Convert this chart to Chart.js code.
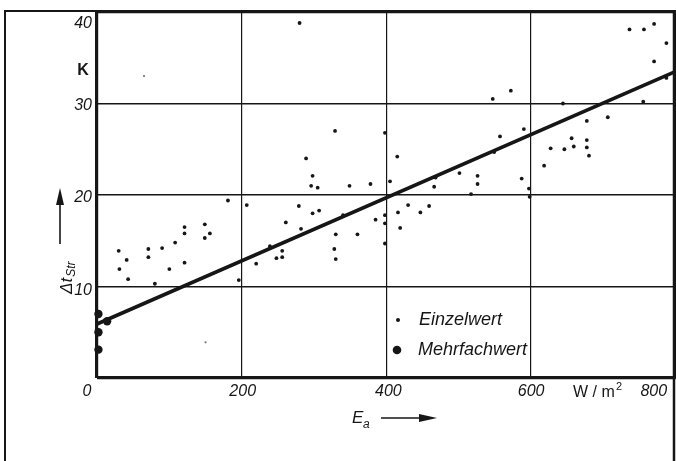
<!DOCTYPE html>
<html><head><meta charset="utf-8">
<script src="https://cdn.jsdelivr.net/npm/chart.js@4"></script>
<style>html,body{margin:0;padding:0;background:#fff;overflow:hidden;width:676px;height:461px}canvas{display:block}</style>
</head><body>
<canvas id="c" width="680" height="461" style="width:680px;height:461px"></canvas>
<script>
// Einzelwert (single values)
const einzelX = [280,329,398,289,298,296,305,349,378,
  547,572,590,557,415,549,501,526,526,405,466,587,597,468,517,
  736,756,770,787,770,787,644,755,706,677,656,677,627,646,659,677,680,618,598,
  181,121,149,121,156,149,108,90,71,30,71,41,121,31,100,43,80,196,
  207,279,298,307,261,282,239,256,248,256,220,330,328,330,360,385,340,398,398,398,
  430,459,416,447,419];
const einzelY = [38.8,27.0,26.8,24.0,22.1,21.0,20.8,21.0,21.2,
  30.5,31.4,27.2,26.4,24.2,24.7,22.4,22.1,21.2,21.5,20.9,21.8,20.7,21.9,20.1,
  38.1,38.1,38.7,36.6,34.6,32.8,30.0,30.2,28.5,28.1,26.2,26.0,25.1,25.0,25.3,25.2,24.3,23.2,19.8,
  19.4,16.5,16.8,15.8,15.8,15.3,14.8,14.2,14.1,13.9,13.2,12.9,12.6,11.9,11.9,10.8,10.3,10.7,
  18.9,18.8,18.0,18.3,17.0,16.3,14.4,13.9,13.1,13.2,12.5,15.7,14.1,13.0,15.7,17.3,17.8,17.8,16.9,14.7,
  18.9,18.8,18.1,18.1,16.4];
// faint specks
const speckX = [65,150];
const speckY = [33.0,3.9];
// Mehrfachwert (multiple values)
const mehrX = [2,2,2,14];
const mehrY = [7.0,5.0,3.1,6.2];
// regression line
const lineX = [0,800];
const lineY = [5.9,33.5];
// ticks
const xTickValues = [0,200,400,600,800];
const xTickLabels = ['0','200','400','600','800'];
const yTickValues = [10,20,30,40];
const yTickLabels = ['10','20','30','40'];
const legendLabels = ['Einzelwert','Mehrfachwert'];

const pts = (xs, ys) => xs.map((x,i)=>({x:x, y:ys[i]}));
const INK = '#161616';
const FONT = '"Liberation Sans", Arial, sans-serif';

const xShift = [-10,1,2,0,-22];
const yShift = [4,3,2,12];

const decor = {
  id:'decor',
  afterDraw(chart){
    const c = chart.ctx, xs = chart.scales.x, ys = chart.scales.y;
    c.save();
    c.strokeStyle = INK; c.fillStyle = INK;
    // outer frame
    c.lineWidth = 2;
    c.beginPath(); c.moveTo(5,461); c.lineTo(5,11); c.lineTo(676,11); c.stroke();
    c.lineWidth = 2.5;
    c.beginPath(); c.moveTo(674,11); c.lineTo(674,461); c.stroke();
    // tick labels
    c.font = 'italic 16px ' + FONT;
    c.textBaseline = 'middle';
    c.textAlign = 'center';
    xTickValues.forEach((v,i)=>{ c.fillText(xTickLabels[i], xs.getPixelForValue(v)+xShift[i], 392); });
    c.textAlign = 'right';
    yTickValues.forEach((v,i)=>{ c.fillText(yTickLabels[i], 92, ys.getPixelForValue(v)+yShift[i]); });
    // unit K
    c.font = 'bold 16px ' + FONT;
    c.textAlign = 'center';
    c.fillText('K', 83, 71);
    // unit W/m2
    c.font = '16px ' + FONT;
    c.textAlign = 'left';
    c.fillText('W / m', 573, 393);
    c.font = '11px ' + FONT;
    c.fillText('2', 616, 387);
    // x title E_a with arrow
    c.font = 'italic 17px ' + FONT;
    c.fillText('E', 352, 418);
    c.font = 'italic 12px ' + FONT;
    c.fillText('a', 363, 425);
    c.lineWidth = 1.6;
    c.beginPath(); c.moveTo(381,418); c.lineTo(421,418); c.stroke();
    c.beginPath(); c.moveTo(437,418); c.lineTo(419,414); c.lineTo(419,422); c.closePath(); c.fill();
    // y title Δt_Str with arrow
    c.beginPath(); c.moveTo(60,244); c.lineTo(60,203); c.stroke();
    c.beginPath(); c.moveTo(60,188); c.lineTo(56,205); c.lineTo(64,205); c.closePath(); c.fill();
    c.save();
    c.translate(72,294); c.rotate(-Math.PI/2);
    c.textBaseline = 'alphabetic'; c.textAlign = 'left';
    c.font = 'italic 17px ' + FONT;
    c.fillText('\u0394t', 0, 0);
    const w = c.measureText('\u0394t').width;
    c.font = 'italic 12px ' + FONT;
    c.fillText('Str', w+1, 3);
    c.restore();
    // legend
    c.textBaseline = 'middle';
    c.beginPath(); c.arc(398,320,2,0,Math.PI*2); c.fill();
    c.beginPath(); c.arc(397,350,4.3,0,Math.PI*2); c.fill();
    c.font = 'italic 18px ' + FONT;
    c.fillText(legendLabels[0], 419, 320);
    c.fillText(legendLabels[1], 418, 350);
    c.restore();
  }
};

new Chart(document.getElementById('c'), {
  type:'scatter',
  data:{ datasets:[
    {label:'Einzelwert', data:pts(einzelX,einzelY), pointRadius:1.9, pointBackgroundColor:INK, pointBorderWidth:0, clip:false},
    {label:'speck', data:pts(speckX,speckY), pointRadius:1.1, pointBackgroundColor:'#777', pointBorderWidth:0, clip:false},
    {label:'Mehrfachwert', data:pts(mehrX,mehrY), pointRadius:4.2, pointBackgroundColor:INK, pointBorderWidth:0, clip:false},
    {label:'Regression', data:pts(lineX,lineY), showLine:true, pointRadius:0, borderColor:INK, borderWidth:3.6, clip:false}
  ]},
  options:{
    responsive:false, animation:false, devicePixelRatio:1,
    layout:{padding:{left:97, top:12, right:1, bottom:83}},
    plugins:{legend:{display:false}, tooltip:{enabled:false}},
    scales:{
      x:{type:'linear', min:0, max:800,
        ticks:{display:false, stepSize:200},
        border:{display:false},
        grid:{drawTicks:false, color:INK, lineWidth:(ctx)=> ctx.tick && ctx.tick.value===0 ? 3.2 : 1.2},
        afterFit(s){ s.height = 0; }
      },
      y:{type:'linear', min:0, max:40,
        ticks:{display:false, stepSize:10},
        border:{display:false},
        grid:{drawTicks:false, color:INK, lineWidth:(ctx)=> !ctx.tick ? 1.5 : (ctx.tick.value===0 ? 3.2 : (ctx.tick.value===40 ? 2.2 : 1.5))},
        afterFit(s){ s.width = 0; }
      }
    }
  },
  plugins:[decor]
});
</script>
</body></html>
